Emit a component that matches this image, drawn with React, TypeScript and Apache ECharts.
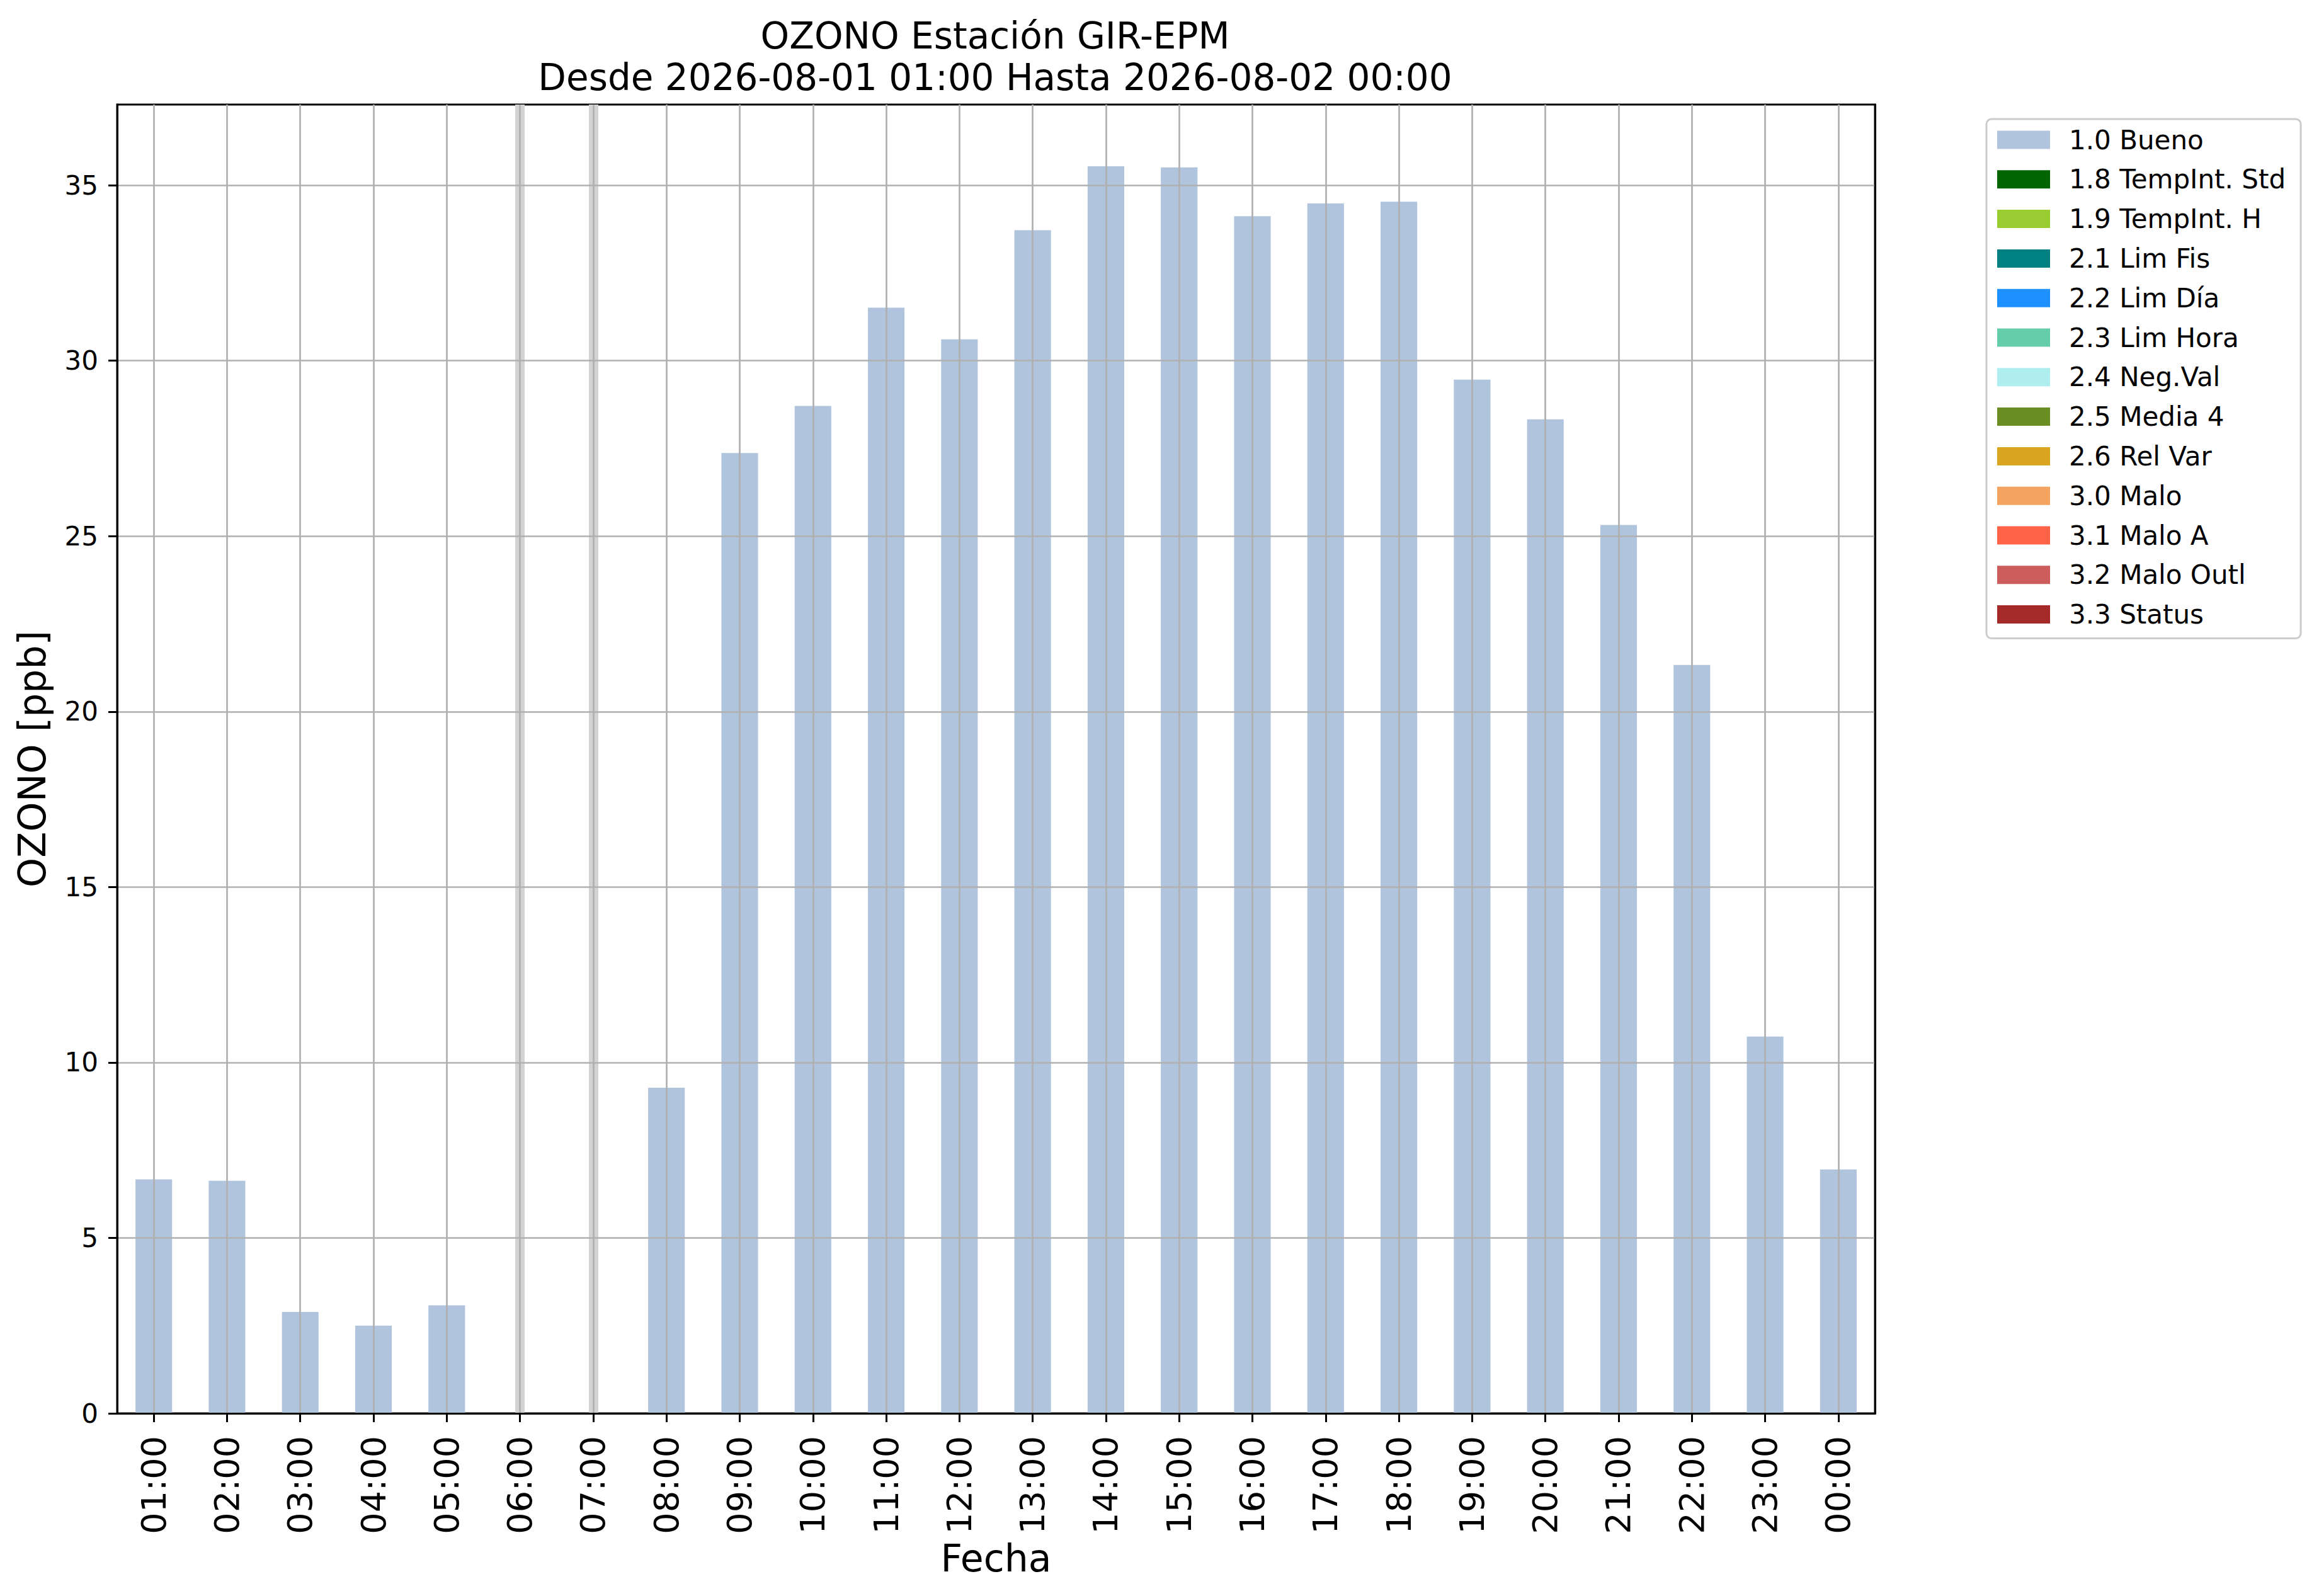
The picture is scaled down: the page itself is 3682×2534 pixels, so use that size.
import React, { useEffect, useRef } from "react";
import * as echarts from "echarts";

const categories = [
  "01:00", "02:00", "03:00", "04:00", "05:00", "06:00", "07:00", "08:00",
  "09:00", "10:00", "11:00", "12:00", "13:00", "14:00", "15:00", "16:00",
  "17:00", "18:00", "19:00", "20:00", "21:00", "22:00", "23:00", "00:00",
];

const buenoValues: (number | null)[] = [
  6.67, 6.63, 2.89, 2.5, 3.08, null, null, 9.28,
  27.37, 28.71, 31.51, 30.61, 33.72, 35.54, 35.51, 34.12,
  34.48, 34.53, 29.46, 28.33, 25.32, 21.33, 10.74, 6.95,
];

const yTicks = [0, 5, 10, 15, 20, 25, 30, 35];
const yMax = 37.3;

const legendNames = [
  "1.0 Bueno", "1.8 TempInt. Std", "1.9 TempInt. H", "2.1 Lim Fis",
  "2.2 Lim Día", "2.3 Lim Hora", "2.4 Neg.Val", "2.5 Media 4",
  "2.6 Rel Var", "3.0 Malo", "3.1 Malo A", "3.2 Malo Outl", "3.3 Status",
];

const legendColors = [
  "#B0C4DE", "#006400", "#9ACD32", "#008080",
  "#1E90FF", "#66CDAA", "#AFEEEE", "#6B8E23",
  "#DAA520", "#F4A460", "#FF6347", "#CD5C5C", "#A52A2A",
];

const titleLines = [
  "OZONO Estación GIR-EPM",
  "Desde 2026-08-01 01:00 Hasta 2026-08-02 00:00",
];

const yAxisTitle = "OZONO [ppb]";
const xAxisTitle = "Fecha";

export default function App() {
  const ref = useRef<HTMLDivElement>(null);

  useEffect(() => {
    document.body.style.margin = "0";
    const chart = echarts.init(ref.current!, null, { renderer: "svg" });
    const font = "DejaVu Sans";

    const missingIdx = categories
      .map((_, i) => i)
      .filter((i) => buenoValues[i] == null);

    const markData = [
      ...missingIdx.map((i) => ({
        xAxis: i,
        lineStyle: { color: "#d3d3d3", width: 15, type: "solid" },
      })),
      ...categories.map((_, i) => ({
        xAxis: i,
        lineStyle: { color: "#b0b0b0", width: 2.7, type: "solid" },
      })),
    ];

    const series = legendNames.map((name, k) => {
      const s: any = {
        name,
        type: "bar",
        stack: "total",
        barWidth: "50%",
        itemStyle: { color: legendColors[k] },
        data: k === 0 ? buenoValues : [],
      };
      if (k === 0) {
        s.markLine = {
          silent: true,
          symbol: ["none", "none"],
          label: { show: false },
          animation: false,
          data: markData,
        };
      }
      return s;
    });

    chart.setOption({
      animation: false,
      backgroundColor: "#ffffff",
      textStyle: { fontFamily: font },
      title: {
        text: titleLines.join("\n"),
        left: 1580,
        top: 24,
        padding: 0,
        textAlign: "center",
        textStyle: {
          fontFamily: font,
          fontSize: 58,
          lineHeight: 66,
          fontWeight: "normal",
          color: "#000",
        },
      },
      legend: {
        orient: "vertical",
        left: 3154,
        top: 189,
        padding: [12, 24, 17, 17],
        borderColor: "#cccccc",
        borderWidth: 3,
        borderRadius: 8,
        backgroundColor: "#ffffff",
        itemWidth: 84,
        itemHeight: 29,
        itemGap: 20.8,
        icon: "rect",
        data: legendNames,
        textStyle: {
          fontFamily: font,
          fontSize: 42,
          lineHeight: 42,
          color: "#000",
          padding: [0, 0, 0, 25],
        },
      },
      grid: {
        left: 186,
        right: 3682 - 2977,
        top: 166,
        bottom: 2534 - 2244,
        show: true,
        borderColor: "#000",
        borderWidth: 3,
        backgroundColor: "transparent",
      },
      xAxis: [
        {
          type: "category",
          data: categories,
          z: 10,
          name: xAxisTitle,
          nameLocation: "middle",
          nameGap: 186,
          nameTextStyle: { fontFamily: font, fontSize: 60, color: "#000" },
          axisLine: { show: true, lineStyle: { color: "#000", width: 3 } },
          axisTick: {
            show: true,
            alignWithLabel: true,
            length: 14,
            lineStyle: { color: "#000", width: 3 },
          },
          axisLabel: {
            interval: 0,
            rotate: 90,
            margin: 36,
            fontFamily: font,
            fontSize: 54,
            color: "#000",
          },
          splitLine: { show: false },
        },
        {
          type: "category",
          data: categories,
          position: "top",
          z: 10,
          axisLine: { show: true, lineStyle: { color: "#000", width: 3 } },
          axisTick: { show: false },
          axisLabel: { show: false },
          splitLine: { show: false },
        },
      ],
      yAxis: [
        {
          type: "value",
          min: 0,
          max: yMax,
          interval: 5,
          z: 10,
          name: yAxisTitle,
          nameLocation: "middle",
          nameGap: 105,
          nameTextStyle: { fontFamily: font, fontSize: 60, color: "#000" },
          axisLine: { show: true, lineStyle: { color: "#000", width: 3 } },
          axisTick: {
            show: true,
            length: 14,
            customValues: yTicks,
            lineStyle: { color: "#000", width: 3 },
          },
          axisLabel: {
            customValues: yTicks,
            margin: 30,
            fontFamily: font,
            fontSize: 42,
            color: "#000",
          },
          splitLine: { show: true, lineStyle: { color: "#b0b0b0", width: 2.7 } },
        },
        {
          type: "value",
          min: 0,
          max: yMax,
          position: "right",
          z: 10,
          axisLine: { show: true, lineStyle: { color: "#000", width: 3 } },
          axisTick: { show: false },
          axisLabel: { show: false },
          splitLine: { show: false },
        },
      ],
      series,
    });

    return () => chart.dispose();
  }, []);

  return <div ref={ref} style={{ width: 3682, height: 2534 }} />;
}
